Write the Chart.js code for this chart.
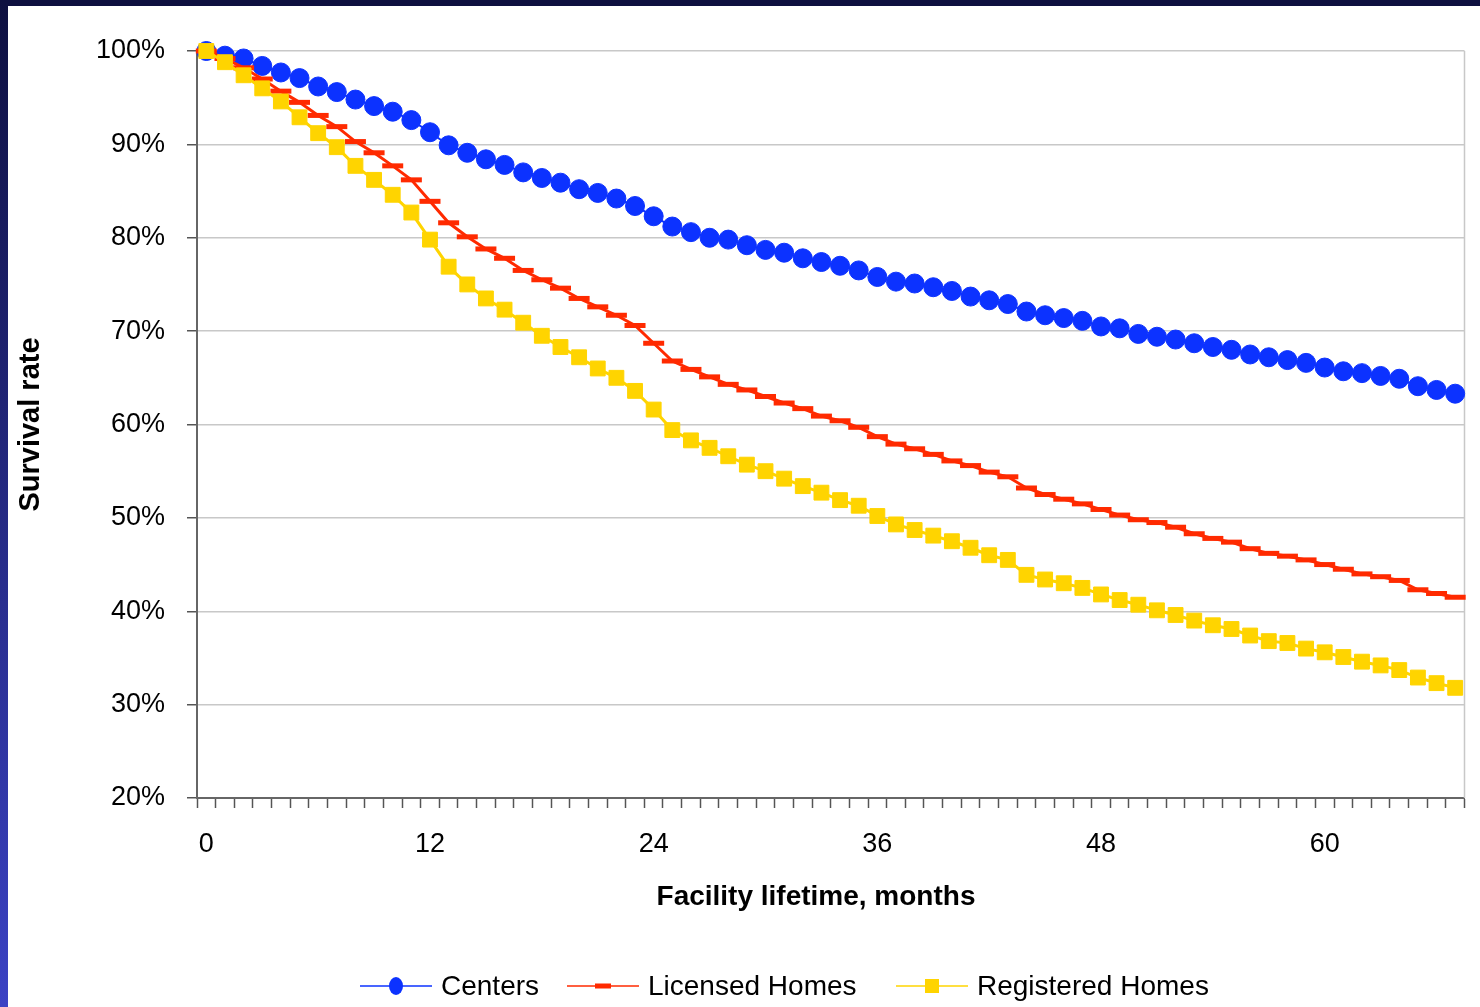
<!DOCTYPE html>
<html><head><meta charset="utf-8">
<script src="https://cdn.jsdelivr.net/npm/chart.js@4"></script>
<style>
html,body{margin:0;padding:0;background:#fff;}
#wrap{position:relative;width:1480px;height:1007px;overflow:hidden;background:#fff;}
#topbar{position:absolute;left:0;top:0;width:1480px;height:6px;background:#0e1040;}
#leftbar{position:absolute;left:0;top:0;width:8px;height:1007px;background:linear-gradient(#0e1040,#3b42c4);}
canvas{position:absolute;left:0;top:0;}
</style></head>
<body><div id="wrap"><canvas id="c" width="1480" height="1007"></canvas><div id="topbar"></div><div id="leftbar"></div></div>
<script>
const months = ['0','1','2','3','4','5','6','7','8','9','10','11','12','13','14','15','16','17','18','19','20','21','22','23','24','25','26','27','28','29','30','31','32','33','34','35','36','37','38','39','40','41','42','43','44','45','46','47','48','49','50','51','52','53','54','55','56','57','58','59','60','61','62','63','64','65','66','67'];
const xTickLabels = ['0','12','24','36','48','60'];
const seriesNames = ['Centers','Licensed Homes','Registered Homes'];
const centers = [100,99.5,99.2,98.4,97.7,97.1,96.2,95.6,94.8,94.1,
  93.5,92.6,91.3,89.9,89.1,88.4,87.8,87.0,86.4,85.9,
  85.2,84.8,84.2,83.4,82.3,81.2,80.6,80.0,79.8,79.2,
  78.7,78.4,77.8,77.4,77.0,76.5,75.8,75.3,75.1,74.7,
  74.3,73.7,73.3,72.9,72.1,71.7,71.4,71.1,70.5,70.3,
  69.7,69.4,69.1,68.7,68.3,68.0,67.5,67.2,66.9,66.6,
  66.1,65.7,65.5,65.2,64.9,64.1,63.7,63.3];
const licensed = [100,99.2,98.2,97.0,95.7,94.5,93.1,91.9,90.3,89.1,
  87.7,86.2,83.9,81.6,80.1,78.8,77.8,76.5,75.5,74.6,
  73.5,72.6,71.7,70.6,68.7,66.8,65.9,65.1,64.3,63.7,
  63.0,62.3,61.7,60.9,60.4,59.7,58.7,57.9,57.4,56.8,
  56.1,55.6,54.9,54.4,53.2,52.5,52.0,51.5,50.9,50.3,
  49.8,49.5,49.0,48.3,47.8,47.4,46.7,46.2,45.9,45.5,
  45.0,44.5,44.0,43.7,43.3,42.3,41.9,41.5];
const registered = [100,98.8,97.4,96.0,94.6,92.9,91.2,89.7,87.7,86.2,
  84.6,82.7,79.8,76.9,75.0,73.5,72.3,70.9,69.5,68.3,
  67.2,66.0,65.0,63.6,61.6,59.4,58.3,57.5,56.6,55.7,
  55.0,54.2,53.4,52.7,51.9,51.3,50.2,49.3,48.7,48.1,
  47.5,46.8,46.0,45.5,43.9,43.4,43.0,42.5,41.8,41.2,
  40.7,40.1,39.6,39.0,38.5,38.1,37.4,36.8,36.6,36.0,
  35.6,35.1,34.6,34.2,33.7,32.9,32.3,31.8];
const yTitle = 'Survival rate';
const xTitle = 'Facility lifetime, months';

const BLUE = '#0c32ff', RED = '#ff2a00', YEL = '#ffd400';
const FONT = '"Liberation Sans", Arial, Helvetica, sans-serif';
const legendX = [360, 567, 896];

const extras = {
  id: 'extras',
  beforeDatasetsDraw(chart) {
    const {ctx, chartArea: a} = chart;
    ctx.save();
    ctx.strokeStyle = '#c8c8c8'; ctx.lineWidth = 1.5;
    ctx.beginPath(); ctx.moveTo(a.right, a.top); ctx.lineTo(a.right, a.bottom); ctx.stroke();
    ctx.restore();
  },
  afterDraw(chart) {
    const ctx = chart.ctx;
    ctx.save();
    ctx.fillStyle = '#000';
    ctx.font = 'bold 28px ' + FONT;
    ctx.textAlign = 'center'; ctx.textBaseline = 'middle';
    ctx.fillText(xTitle, 816, 897);
    ctx.font = '28px ' + FONT;
    ctx.textAlign = 'left';
    const y = 986;
    chart.data.datasets.forEach((ds, i) => {
      const x0 = legendX[i], x1 = x0 + 72, xm = (x0 + x1) / 2;
      ctx.strokeStyle = ds.borderColor; ctx.lineWidth = 1.5;
      ctx.beginPath(); ctx.moveTo(x0, y); ctx.lineTo(x1, y); ctx.stroke();
      ctx.fillStyle = ds.borderColor;
      if (ds.pointStyle === 'circle') {
        ctx.beginPath(); ctx.ellipse(xm, y, 7, 9, 0, 0, Math.PI * 2); ctx.fill();
      } else if (ds.pointStyle === 'line') {
        ctx.fillRect(xm - 8, y - 2.5, 16, 5);
      } else {
        ctx.fillRect(xm - 7, y - 7, 14, 14);
      }
      ctx.fillStyle = '#000';
      ctx.fillText(ds.label, x1 + 9, y + 1);
    });
    ctx.restore();
  }
};

new Chart(document.getElementById('c'), {
  type: 'line',
  data: {
    labels: months,
    datasets: [
      {label: seriesNames[0], data: centers, borderColor: BLUE, backgroundColor: BLUE, borderWidth: 2,
       pointStyle: 'circle', pointRadius: 9.5, pointBackgroundColor: BLUE, pointBorderColor: BLUE, pointBorderWidth: 1, order: 3, clip: false},
      {label: seriesNames[1], data: licensed, borderColor: RED, backgroundColor: RED, borderWidth: 3,
       pointStyle: 'line', pointRadius: 10.5, pointBackgroundColor: RED, pointBorderColor: RED, pointBorderWidth: 5, order: 2, clip: false},
      {label: seriesNames[2], data: registered, borderColor: YEL, backgroundColor: YEL, borderWidth: 3,
       pointStyle: 'rect', pointRadius: 10.5, pointBackgroundColor: YEL, pointBorderColor: YEL, pointBorderWidth: 1, order: 1, clip: false}
    ]
  },
  options: {
    responsive: false,
    animation: false,
    layout: {padding: {left: 8, top: 51, right: 12, bottom: 0}},
    plugins: {legend: {display: false}, tooltip: {enabled: false}},
    elements: {line: {tension: 0}},
    scales: {
      x: {
        type: 'category', offset: true,
        grid: {offset: true, drawOnChartArea: false, drawTicks: true, tickLength: 10, tickColor: '#555', tickWidth: 1.5},
        border: {color: '#666', width: 2},
        ticks: {autoSkip: false, maxRotation: 0, minRotation: 0, padding: 20, color: '#000',
          font: {family: FONT, size: 27},
          callback: (v, i) => xTickLabels.includes(months[i]) ? months[i] : ''},
        afterFit: s => { s.height = 1007 - 798; }
      },
      y: {
        min: 20, max: 100,
        ticks: {stepSize: 10, padding: 22, color: '#000', font: {family: FONT, size: 27}, callback: v => v + '%'},
        grid: {color: '#c8c8c8', lineWidth: 1.5, tickColor: '#555', tickLength: 10},
        border: {color: '#666', width: 2},
        title: {display: true, text: yTitle, color: '#000', font: {family: FONT, size: 29, weight: 'bold'}, padding: {top: 6, bottom: 0}},
        afterFit: s => { s.width = 197 - 8; }
      }
    }
  },
  plugins: [extras]
});
</script>
</body></html>
